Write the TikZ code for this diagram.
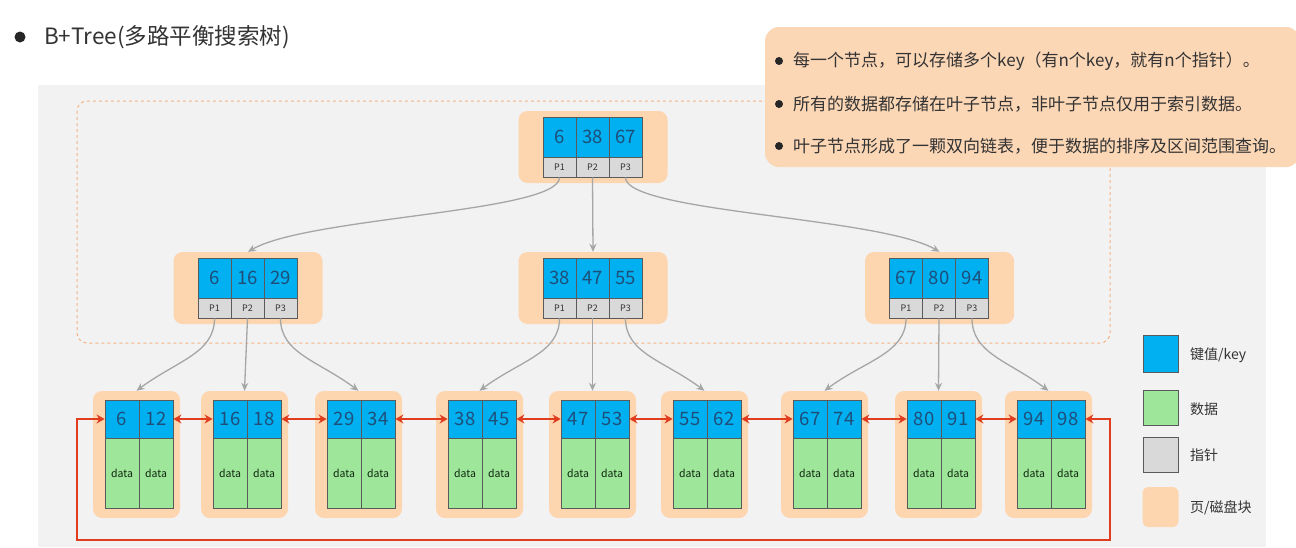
\documentclass[tikz,border=0pt]{standalone}
\usepackage{fontspec}
\setmainfont{Noto Sans CJK SC}
\usetikzlibrary{arrows.meta}
\definecolor{panelbg}{HTML}{F2F2F2}
\definecolor{pageor}{HTML}{FDD5AE}
\definecolor{calloutor}{HTML}{FCD7B6}
\definecolor{keyblue}{HTML}{00B0F0}
\definecolor{datagreen}{HTML}{9EE79A}
\definecolor{ptrgray}{HTML}{D9D9D9}
\definecolor{cellline}{HTML}{5A5A5A}
\definecolor{numc}{HTML}{1F4E79}
\definecolor{arrgray}{HTML}{A6A6A6}
\definecolor{linkred}{HTML}{E03C1E}
\definecolor{dashor}{HTML}{F4B183}
\definecolor{txt}{HTML}{333333}
\newcommand{\innode}[6]{%
  \node[pagebox, minimum width=149pt, minimum height=72pt] (#1) at (#2+0.5,#3+30) {};
  \node[keyc] (#1k1) at (#2-33,#3+20) {#4};
  \node[keyc] (#1k2) at (#2,#3+20) {#5};
  \node[keyc] (#1k3) at (#2+33,#3+20) {#6};
  \node[ptrc] (#1p1) at (#2-33,#3+50) {P1};
  \node[ptrc] (#1p2) at (#2,#3+50) {P2};
  \node[ptrc] (#1p3) at (#2+33,#3+50) {P3};
}
\newcommand{\leafnode}[4]{%
  \node[pagebox, minimum width=87pt, minimum height=127pt] (#1) at (#2-2.5,454.5) {};
  \node[keyc, minimum width=34pt, minimum height=38pt] (#1k1) at (#2-17,419) {#3};
  \node[keyc, minimum width=34pt, minimum height=38pt] (#1k2) at (#2+17,419) {#4};
  \node[datac] (#1d1) at (#2-17,473) {data};
  \node[datac] (#1d2) at (#2+17,473) {data};
}
\begin{document}
\begin{tikzpicture}[x=1pt,y=-1pt,
  pagebox/.style={fill=pageor, rounded corners=9pt, draw=none, inner sep=0},
  keyc/.style={draw=cellline, line width=0.8pt, fill=keyblue, minimum width=33pt, minimum height=40pt, inner sep=0, text=numc, font=\fontsize{18.5}{18.5}\selectfont},
  ptrc/.style={draw=cellline, line width=0.8pt, fill=ptrgray, minimum width=33pt, minimum height=20pt, inner sep=0, text=txt, font=\fontsize{9}{9}\selectfont},
  datac/.style={draw=cellline, line width=0.8pt, fill=datagreen, minimum width=34pt, minimum height=70pt, inner sep=0, text=txt!80!green!40!black, font=\fontsize{10.5}{10.5}\selectfont},
  tarrow/.style={draw=arrgray, line width=1.3pt, -{Stealth[length=8pt,width=7pt]}},
  link/.style={draw=linkred, line width=2.2pt, {Stealth[length=8pt,width=9pt]}-{Stealth[length=8pt,width=9pt]}},
  legtxt/.style={anchor=west, text=txt, font=\fontsize{14}{14}\selectfont, inner sep=0},
  calltxt/.style={anchor=west, text=txt, font=\fontsize{17}{17}\selectfont, inner sep=0},
  dot/.style={circle, fill=black!85, inner sep=0, minimum size=#1}
]
\useasboundingbox (0,0) rectangle (1296,547);
\fill[white] (0,0) rectangle (1296,547);
% panel
\fill[panelbg] (38,85) rectangle (1266,547);
% dashed frame
\draw[dashor, dashed, line width=1pt, rounded corners=10pt] (77,101) rectangle (1110,343);
% title
\node[dot=11pt] (tdot) at (20,37) {};
\node[anchor=west, inner sep=0, text=txt, font=\fontsize{22.5}{22.5}\selectfont] (title) at (44,37) {B+Tree(多路平衡搜索树)};
% tree
\innode{rt}{592.5}{117}{6}{38}{67}
\innode{ml}{247.5}{258}{6}{16}{29}
\innode{mm}{592.5}{258}{38}{47}{55}
\innode{mr}{939}{258}{67}{80}{94}
\leafnode{la}{139}{6}{12}
\leafnode{lb}{247}{16}{18}
\leafnode{lc}{361}{29}{34}
\leafnode{ld}{482}{38}{45}
\leafnode{le}{595}{47}{53}
\leafnode{lf}{707}{55}{62}
\leafnode{lg}{827}{67}{74}
\leafnode{lh}{941}{80}{91}
\leafnode{li}{1051}{94}{98}
% gray arrows
\draw[tarrow] (rtp1.south) .. controls +(0,35) and +(60,-35) .. (ml.north);
\draw[tarrow] (rtp2.south) -- (mm.north);
\draw[tarrow] (rtp3.south) .. controls +(0,35) and +(-60,-35) .. (mr.north);
\draw[tarrow] (mlp1.south) .. controls +(0,35) and +(40,-30) .. (la.north);
\draw[tarrow] (mlp2.south) -- (lb.north);
\draw[tarrow] (mlp3.south) .. controls +(0,35) and +(-40,-30) .. (lc.north);
\draw[tarrow] (mmp1.south) .. controls +(0,35) and +(40,-30) .. (ld.north);
\draw[tarrow] (mmp2.south) -- (le.north);
\draw[tarrow] (mmp3.south) .. controls +(0,35) and +(-40,-30) .. (lf.north);
\draw[tarrow] (mrp1.south) .. controls +(0,35) and +(40,-30) .. (lg.north);
\draw[tarrow] (mrp2.south) -- (lh.north);
\draw[tarrow] (mrp3.south) .. controls +(0,35) and +(-40,-30) .. (li.north);
% red links
\draw[link] (lak2.east) -- (lbk1.west);
\draw[link] (lbk2.east) -- (lck1.west);
\draw[link] (lck2.east) -- (ldk1.west);
\draw[link] (ldk2.east) -- (lek1.west);
\draw[link] (lek2.east) -- (lfk1.west);
\draw[link] (lfk2.east) -- (lgk1.west);
\draw[link] (lgk2.east) -- (lhk1.west);
\draw[link] (lhk2.east) -- (lik1.west);
\coordinate (cr) at (1110,419);
\coordinate (cbr) at (1110,540);
\coordinate (cbl) at (77,540);
\coordinate (cl) at (77,419);
\draw[link] (lik2.east) -- (cr) -- (cbr) -- (cbl) -- (cl) -- (lak1.west);
% legend
\node[keyc, minimum width=35pt, minimum height=37pt] (lgkey) at (1160.5,353.5) {};
\node[datac, minimum width=35pt, minimum height=35pt] (lgdata) at (1160.5,407.5) {};
\node[ptrc, minimum width=35pt, minimum height=35pt] (lgptr) at (1160.5,454.5) {};
\node[pagebox, minimum width=36pt, minimum height=40pt, rounded corners=6pt] (lgpage) at (1160.5,507) {};
\node[legtxt] (lgkeyt) at (1190,355) {键值/key};
\node[legtxt] (lgdatat) at (1190,409) {数据};
\node[legtxt] (lgptrt) at (1190,455) {指针};
\node[legtxt] (lgpaget) at (1190,508) {页/磁盘块};
% callout
\fill[calloutor, rounded corners=14pt] (765,27) rectangle (1300,167);
\node[dot=8pt] (c1d) at (779,61) {};
\node[dot=8pt] (c2d) at (779,104) {};
\node[dot=8pt] (c3d) at (779,146) {};
\node[calltxt] (c1) at (793,61) {每一个节点，可以存储多个key（有n个key，就有n个指针）。};
\node[calltxt] (c2) at (793,104) {所有的数据都存储在叶子节点，非叶子节点仅用于索引数据。};
\node[calltxt] (c3) at (793,146) {叶子节点形成了一颗双向链表，便于数据的排序及区间范围查询。};
\end{tikzpicture}
\end{document}
